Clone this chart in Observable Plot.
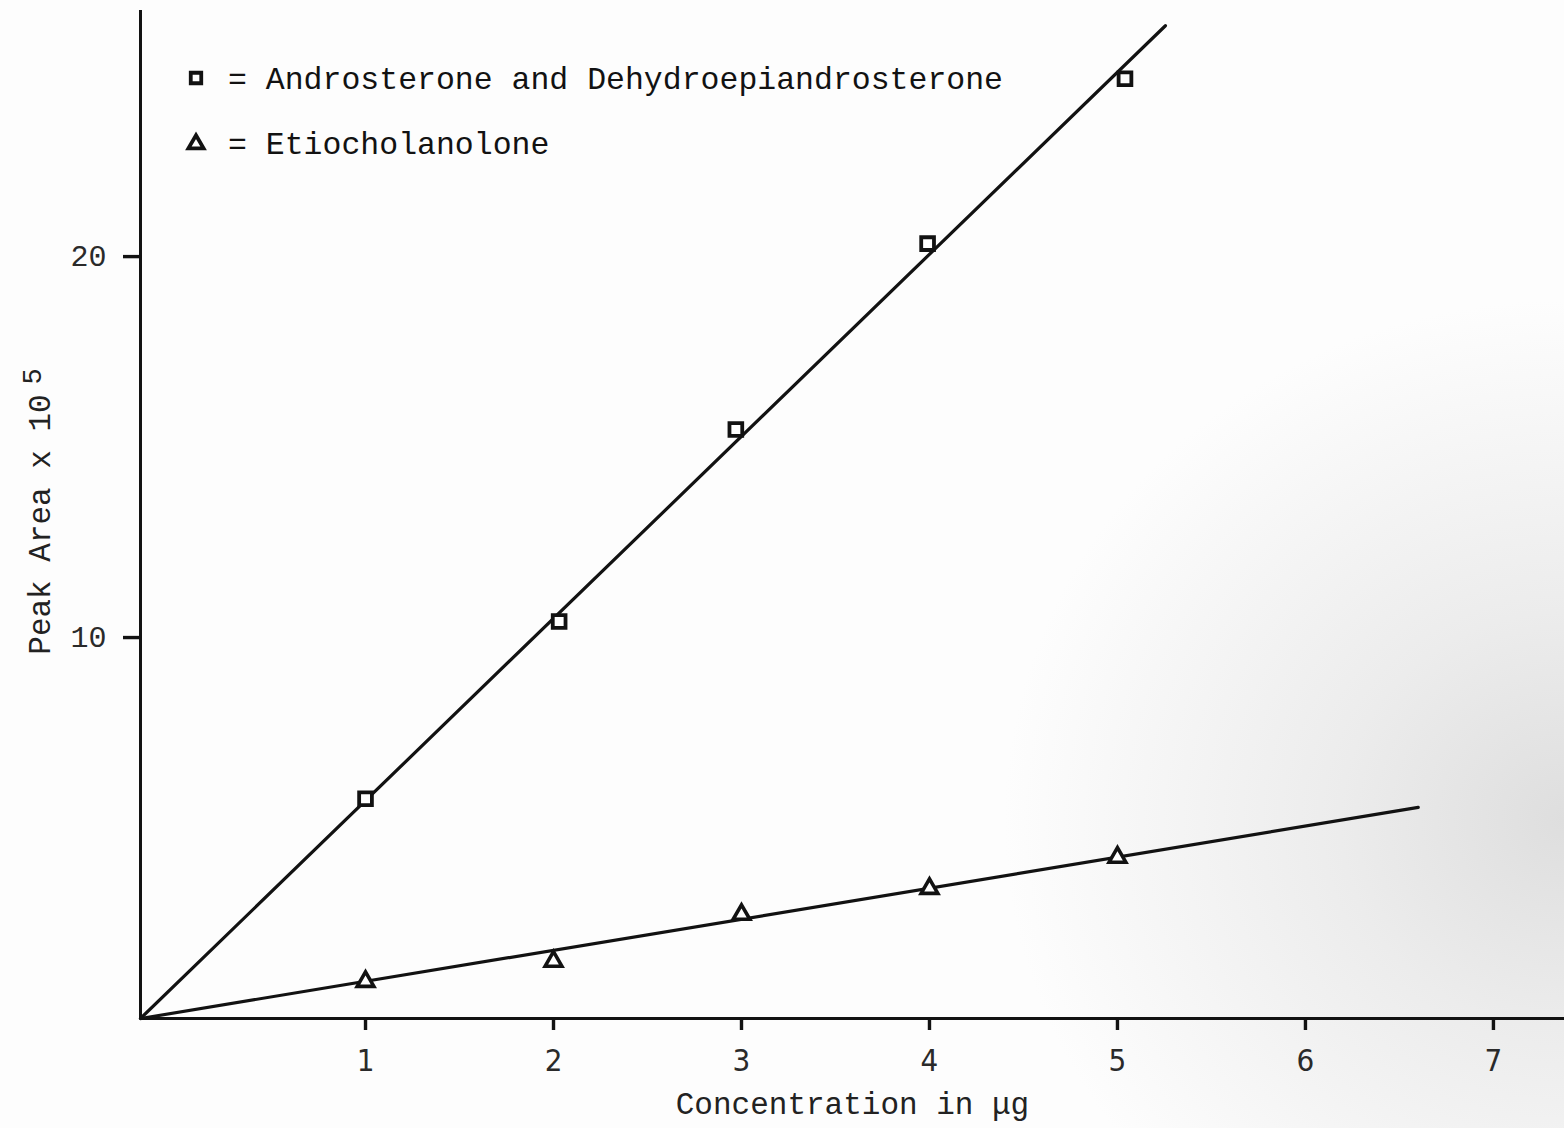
<!DOCTYPE html>
<html>
<head>
<meta charset="utf-8">
<script src="https://cdn.jsdelivr.net/npm/d3@7"></script>
<script src="https://cdn.jsdelivr.net/npm/@observablehq/plot@0.6"></script>
<style>
  html, body { margin: 0; padding: 0; }
  body {
    width: 1564px; height: 1128px; overflow: hidden;
    background:
      radial-gradient(ellipse 560px 520px at 1564px 820px, #dedede 0%, #ececec 40%, rgba(255,255,255,0) 100%),
      #fdfdfd;
  }
  #chart svg { display: block; }
</style>
</head>
<body>
<div id="chart"></div>
<script>
// ---- Data ----
// Androsterone and Dehydroepiandrosterone (squares)
const androConc = [1.0, 2.03, 2.97, 3.99, 5.04];
const androArea = [5.77, 10.42, 15.46, 20.34, 24.67];
// Etiocholanolone (triangles)
const etioConc = [1, 2, 3, 4, 5];
const etioArea = [0.97, 1.50, 2.73, 3.41, 4.23];
// Hand-drawn fit lines (start at the graph's origin corner)
const androFitConc = [-0.197, 5.255];
const androFitArea = [0, 26.06];
const etioFitConc = [-0.197, 6.60];
const etioFitArea = [0, 5.54];
// Axes
const xTicks = [1, 2, 3, 4, 5, 6, 7];
const yTicks = [10, 20];
const xDomain = [-0.197, 7.378];
const yDomain = [0, 26.46];
const legendNames = ["Androsterone and Dehydroepiandrosterone", "Etiocholanolone"];
const legendSymbols = ["square", "triangle"];
const xLabel = "Concentration in \u03bcg";
const yLabel = "Peak Area x 10";
const yLabelExp = "5";

const toRows = (xs, ys) => xs.map((x, i) => ({x, y: ys[i]}));
const andro = toRows(androConc, androArea);
const etio = toRows(etioConc, etioArea);
const androFit = toRows(androFitConc, androFitArea);
const etioFit = toRows(etioFitConc, etioFitArea);

const mono = "'Courier New', 'Liberation Mono', monospace";
const narrow = "'DejaVu Sans Condensed', 'DejaVu Sans', sans-serif";
const ink = "#121212";

function legendMark() {
  const g = d3.create("svg:g");
  const sym = {square: d3.symbolSquare, triangle: d3.symbolTriangle};
  const sizes = {square: 110, triangle: 100};
  legendNames.forEach((name, i) => {
    const cy = 78 + i * 65;
    g.append("path")
      .attr("d", d3.symbol(sym[legendSymbols[i]], sizes[legendSymbols[i]])())
      .attr("transform", `translate(196,${cy + (legendSymbols[i] === "triangle" ? 1 : 0)})`)
      .attr("fill", "white").attr("stroke", ink).attr("stroke-width", 3.8);
    g.append("text")
      .attr("x", 228).attr("y", cy).attr("dy", "0.36em")
      .attr("text-anchor", "start")
      .attr("font-family", mono).attr("font-size", 31.5).attr("fill", ink)
      .text("= " + name);
  });
  return g.node();
}

const chart = Plot.plot({
  width: 1564,
  height: 1128,
  marginLeft: 140,
  marginRight: 0,
  marginTop: 10,
  marginBottom: 110,
  style: {background: "transparent", color: ink, overflow: "visible"},
  x: {type: "linear", domain: xDomain, axis: null},
  y: {type: "linear", domain: yDomain, axis: null},
  marks: [
    Plot.ruleX([xDomain[0]], {stroke: ink, strokeWidth: 3}),
    Plot.ruleY([0], {stroke: ink, strokeWidth: 3}),
    Plot.axisX({ticks: xTicks, tickSize: 12, tickPadding: 18, strokeWidth: 3.4, stroke: ink,
      fontSize: 31, fontFamily: narrow, fill: "#2a2a2a", label: null, tickFormat: d => String(d)}),
    Plot.axisY({ticks: yTicks, tickSize: 17, tickPadding: 17, strokeWidth: 3.4, stroke: ink,
      fontSize: 30, fontFamily: mono, fill: "#2a2a2a", label: null, tickFormat: d => String(d)}),
    Plot.line(androFit, {x: "x", y: "y", stroke: ink, strokeWidth: 3.2}),
    Plot.line(etioFit, {x: "x", y: "y", stroke: ink, strokeWidth: 3.2}),
    Plot.dot(andro, {x: "x", y: "y", symbol: "square", r: 7.2, fill: "white", stroke: ink, strokeWidth: 3.8}),
    Plot.dot(etio, {x: "x", y: "y", symbol: "triangle", r: 6.2, fill: "white", stroke: ink, strokeWidth: 3.6}),
    Plot.text([xLabel], {text: d => d, frameAnchor: "bottom", dy: 95, fontSize: 31, fontFamily: mono, fill: "#222"}),
    Plot.text([yLabel], {text: d => d, frameAnchor: "left", textAnchor: "middle", rotate: -90, dx: -100, dy: 10, fontSize: 31, fontFamily: mono, fill: "#222"}),
    Plot.text([yLabelExp], {text: d => d, frameAnchor: "left", textAnchor: "middle", rotate: -90, dx: -108, dy: -138, fontSize: 27, fontFamily: mono, fill: "#222"}),
    legendMark
  ]
});
document.getElementById("chart").appendChild(chart);
</script>
</body>
</html>
